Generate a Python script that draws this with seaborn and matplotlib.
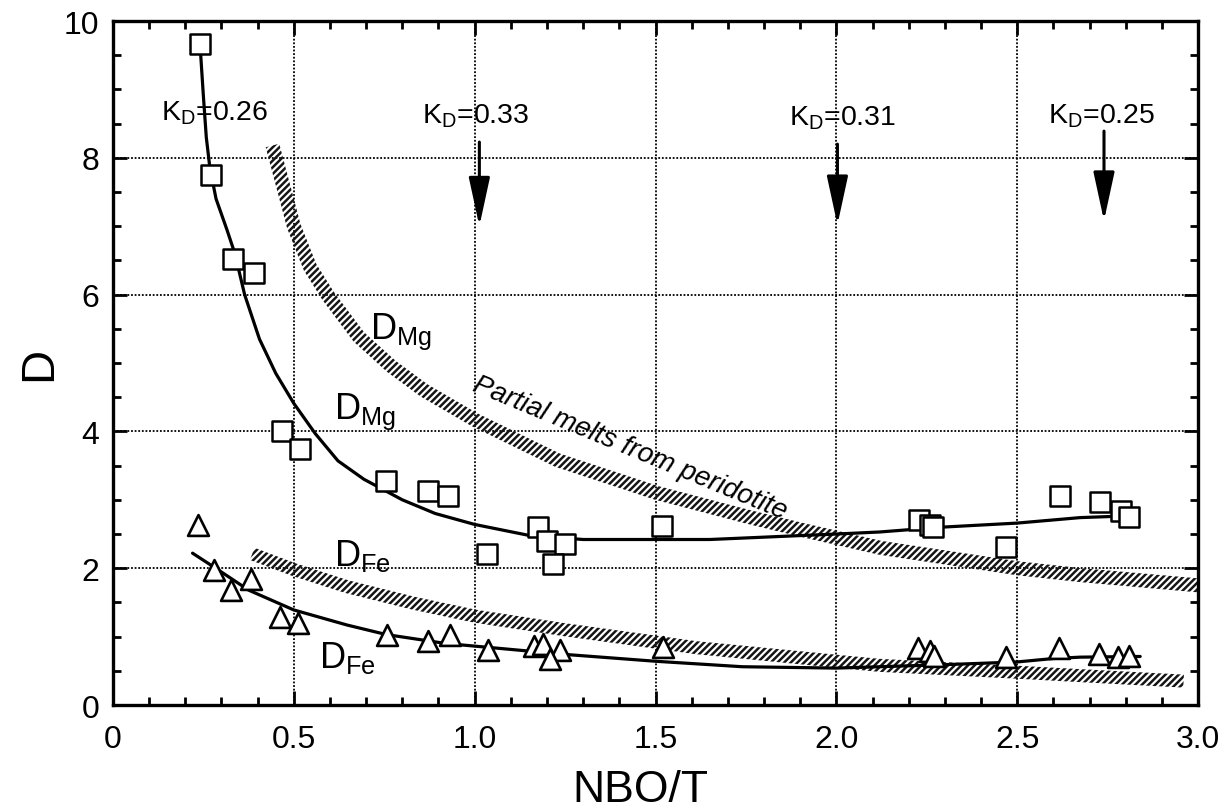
import numpy as np
import matplotlib
matplotlib.use('Agg')
import matplotlib.pyplot as plt
from matplotlib.patches import Polygon
from matplotlib.ticker import MultipleLocator
import seaborn as sns

# measured partition coefficients (squares = Mg, triangles = Fe)
mg_x = [0.24, 0.272, 0.333, 0.389, 0.468, 0.518, 0.755, 0.87, 0.927, 1.035,
        1.176, 1.199, 1.25, 1.217, 1.518, 2.229, 2.26, 2.267, 2.469, 2.618,
        2.728, 2.786, 2.81]
mg_y = [9.66, 7.75, 6.52, 6.31, 4.01, 3.74, 3.27, 3.13, 3.05, 2.21,
        2.60, 2.40, 2.36, 2.06, 2.62, 2.71, 2.63, 2.60, 2.31, 3.05,
        2.97, 2.84, 2.75]

fe_x = [0.234, 0.279, 0.325, 0.382, 0.461, 0.511, 0.758, 0.87, 0.931, 1.036,
        1.165, 1.19, 1.237, 1.208, 1.52, 2.226, 2.26, 2.27, 2.468, 2.615,
        2.725, 2.78, 2.81]
fe_y = [2.63, 1.98, 1.68, 1.84, 1.29, 1.20, 1.03, 0.93, 1.03, 0.81,
        0.86, 0.89, 0.81, 0.67, 0.85, 0.84, 0.79, 0.72, 0.70, 0.84,
        0.75, 0.70, 0.71]

# fitted curves
mg_fit_x = [0.242, 0.25, 0.258, 0.268, 0.285, 0.315, 0.337, 0.364, 0.405, 0.45,
            0.5, 0.559, 0.622, 0.694, 0.8, 0.891, 1.0, 1.15, 1.3, 1.5, 1.65,
            2.0, 2.12, 2.29, 2.5, 2.674, 2.83]
mg_fit_y = [9.55, 8.9, 8.3, 7.85, 7.4, 6.95, 6.6, 6.0, 5.35, 4.85,
            4.41, 3.97, 3.57, 3.30, 3.0, 2.80, 2.64, 2.48, 2.42, 2.42, 2.42,
            2.50, 2.53, 2.60, 2.66, 2.74, 2.77]

fe_fit_x = [0.22, 0.284, 0.375, 0.5, 0.647, 0.756, 0.92, 1.065, 1.25, 1.5,
            1.74, 2.0, 2.12, 2.3, 2.5, 2.6, 2.674, 2.84]
fe_fit_y = [2.22, 2.0, 1.68, 1.39, 1.17, 1.03, 0.90, 0.83, 0.74, 0.64,
            0.56, 0.54, 0.56, 0.59, 0.63, 0.68, 0.70, 0.71]

# partial melts from peridotite (hatched bands, centre lines)
pm_mg_x = [0.441, 0.47, 0.5, 0.545, 0.595, 0.68, 0.77, 0.86, 1.0, 1.229,
           1.504, 1.757, 1.905, 2.12, 2.5, 2.674, 3.0]
pm_mg_y = [8.18, 7.6, 7.0, 6.4, 5.98, 5.38, 4.95, 4.6, 4.17, 3.58,
           3.10, 2.75, 2.56, 2.30, 2.0, 1.90, 1.75]

pm_fe_x = [0.385, 0.5, 0.647, 0.83, 1.0, 1.25, 1.5, 1.61, 2.0, 2.12, 2.5, 2.674, 2.96]
pm_fe_y = [2.21, 1.98, 1.73, 1.49, 1.30, 1.10, 0.92, 0.84, 0.64, 0.58, 0.48, 0.43, 0.35]

# K_D annotations: label, text x, text baseline y, arrow x (None = no arrow), arrow top, arrow tip
kd_labels = ['0.26', '0.33', '0.31', '0.25']
kd_text_x = [0.134, 0.855, 1.868, 2.585]
kd_text_y = [8.56, 8.52, 8.49, 8.51]
kd_arrow_x = [None, 1.013, 2.003, 2.74]
kd_arrow_top = [None, 8.23, 8.2, 8.39]
kd_arrow_tip = [None, 7.0, 7.02, 7.08]

x_ticks = [0, 0.5, 1.0, 1.5, 2.0, 2.5, 3.0]
x_tick_labels = ['0', '0.5', '1.0', '1.5', '2.0', '2.5', '3.0']
y_ticks = [0, 2, 4, 6, 8, 10]
y_tick_labels = ['0', '2', '4', '6', '8', '10']

sns.set_style('ticks')
plt.rcParams['font.family'] = ['Liberation Sans', 'DejaVu Sans']
plt.rcParams['mathtext.fontset'] = 'custom'
plt.rcParams['mathtext.rm'] = 'Liberation Sans'
plt.rcParams['mathtext.it'] = 'Liberation Sans:italic'
plt.rcParams['mathtext.bf'] = 'Liberation Sans:bold'
plt.rcParams['hatch.linewidth'] = 1.8
for key in ['text.color', 'axes.labelcolor', 'xtick.color', 'ytick.color',
            'axes.edgecolor']:
    plt.rcParams[key] = 'black'

fig = plt.figure(figsize=(12.28, 8.12), dpi=100)
ax = fig.add_axes([0.092, 0.1305, 0.8836, 0.8424])
ax.set_xlim(0, 3.0)
ax.set_ylim(0, 10)


def hatched_band(ax, xs, ys, half_px):
    # offset the centre line sideways in pixel space to get an even band
    pts = ax.transData.transform(np.column_stack([xs, ys]))
    d = np.gradient(pts, axis=0)
    n = np.column_stack([-d[:, 1], d[:, 0]])
    n /= np.linalg.norm(n, axis=1)[:, None]
    outline = np.vstack([pts + n * half_px, (pts - n * half_px)[::-1]])
    poly = Polygon(ax.transData.inverted().transform(outline), closed=True,
                   facecolor='none', edgecolor='#151515', linewidth=0,
                   hatch='/////', zorder=2)
    ax.add_patch(poly)


hatched_band(ax, pm_mg_x, pm_mg_y, 7.0)
hatched_band(ax, pm_fe_x, pm_fe_y, 6.5)

sns.lineplot(x=mg_fit_x, y=mg_fit_y, sort=False, estimator=None, color='black',
             linewidth=2.3, ax=ax, zorder=3)
sns.lineplot(x=fe_fit_x, y=fe_fit_y, sort=False, estimator=None, color='black',
             linewidth=2.3, ax=ax, zorder=3)

sns.scatterplot(x=mg_x, y=mg_y, marker='s', s=215, facecolor='white',
                edgecolor='black', linewidth=1.8, ax=ax, zorder=4)
sns.scatterplot(x=fe_x, y=fe_y, marker='^', s=225, facecolor='white',
                edgecolor='black', linewidth=1.9, ax=ax, zorder=4)

# K_D labels and arrows
for lab, tx, ty, axx, atop, atip in zip(kd_labels, kd_text_x, kd_text_y,
                                         kd_arrow_x, kd_arrow_top, kd_arrow_tip):
    ax.text(tx, ty, 'K$_{\\mathrm{D}}$=' + lab, fontsize=20.5, ha='left',
            va='baseline', zorder=5)
    if axx is not None:
        ax.annotate('', xy=(axx, atip), xytext=(axx, atop),
                    arrowprops=dict(arrowstyle='-|>,head_length=30,head_width=6.5',
                                    mutation_scale=1, color='black', lw=2.2,
                                    shrinkA=0, shrinkB=0), zorder=5)

ax.text(0.711, 5.37, 'D$_{\\mathrm{Mg}}$', fontsize=26, va='baseline', zorder=5)
ax.text(0.611, 4.20, 'D$_{\\mathrm{Mg}}$', fontsize=26, va='baseline', zorder=5)
ax.text(0.611, 2.05, 'D$_{\\mathrm{Fe}}$', fontsize=26, va='baseline', zorder=5)
ax.text(0.570, 0.56, 'D$_{\\mathrm{Fe}}$', fontsize=26, va='baseline', zorder=5)
ax.text(1.43, 3.76, 'Partial melts from peridotite', fontsize=20, style='italic',
        rotation=-22.5, rotation_mode='anchor', ha='center', va='center', zorder=5)

# axes styling
ax.set_xticks(x_ticks)
ax.set_xticklabels(x_tick_labels)
ax.set_yticks(y_ticks)
ax.set_yticklabels(y_tick_labels)
ax.xaxis.set_minor_locator(MultipleLocator(0.1))
ax.yaxis.set_minor_locator(MultipleLocator(0.5))
ax.tick_params(which='both', direction='in', top=True, right=True,
               color='black', width=2.0)
ax.tick_params(which='major', length=10, labelsize=23)
ax.tick_params(axis='x', which='major', pad=14)
ax.tick_params(axis='y', which='major', pad=10)
ax.tick_params(which='minor', length=6)
for sp in ax.spines.values():
    sp.set_linewidth(2.4)
    sp.set_color('black')
ax.grid(True, which='major', color='black', linestyle=(0, (1, 1)), linewidth=1.3)
ax.set_axisbelow(True)

ax.set_xlabel('NBO/T', fontsize=32)
ax.set_ylabel('D', fontsize=34, va='center')
ax.xaxis.set_label_coords(0.486, -0.093)
ax.yaxis.set_label_coords(-0.068, 0.5)

fig.savefig('out.png', dpi=100, facecolor='white')
